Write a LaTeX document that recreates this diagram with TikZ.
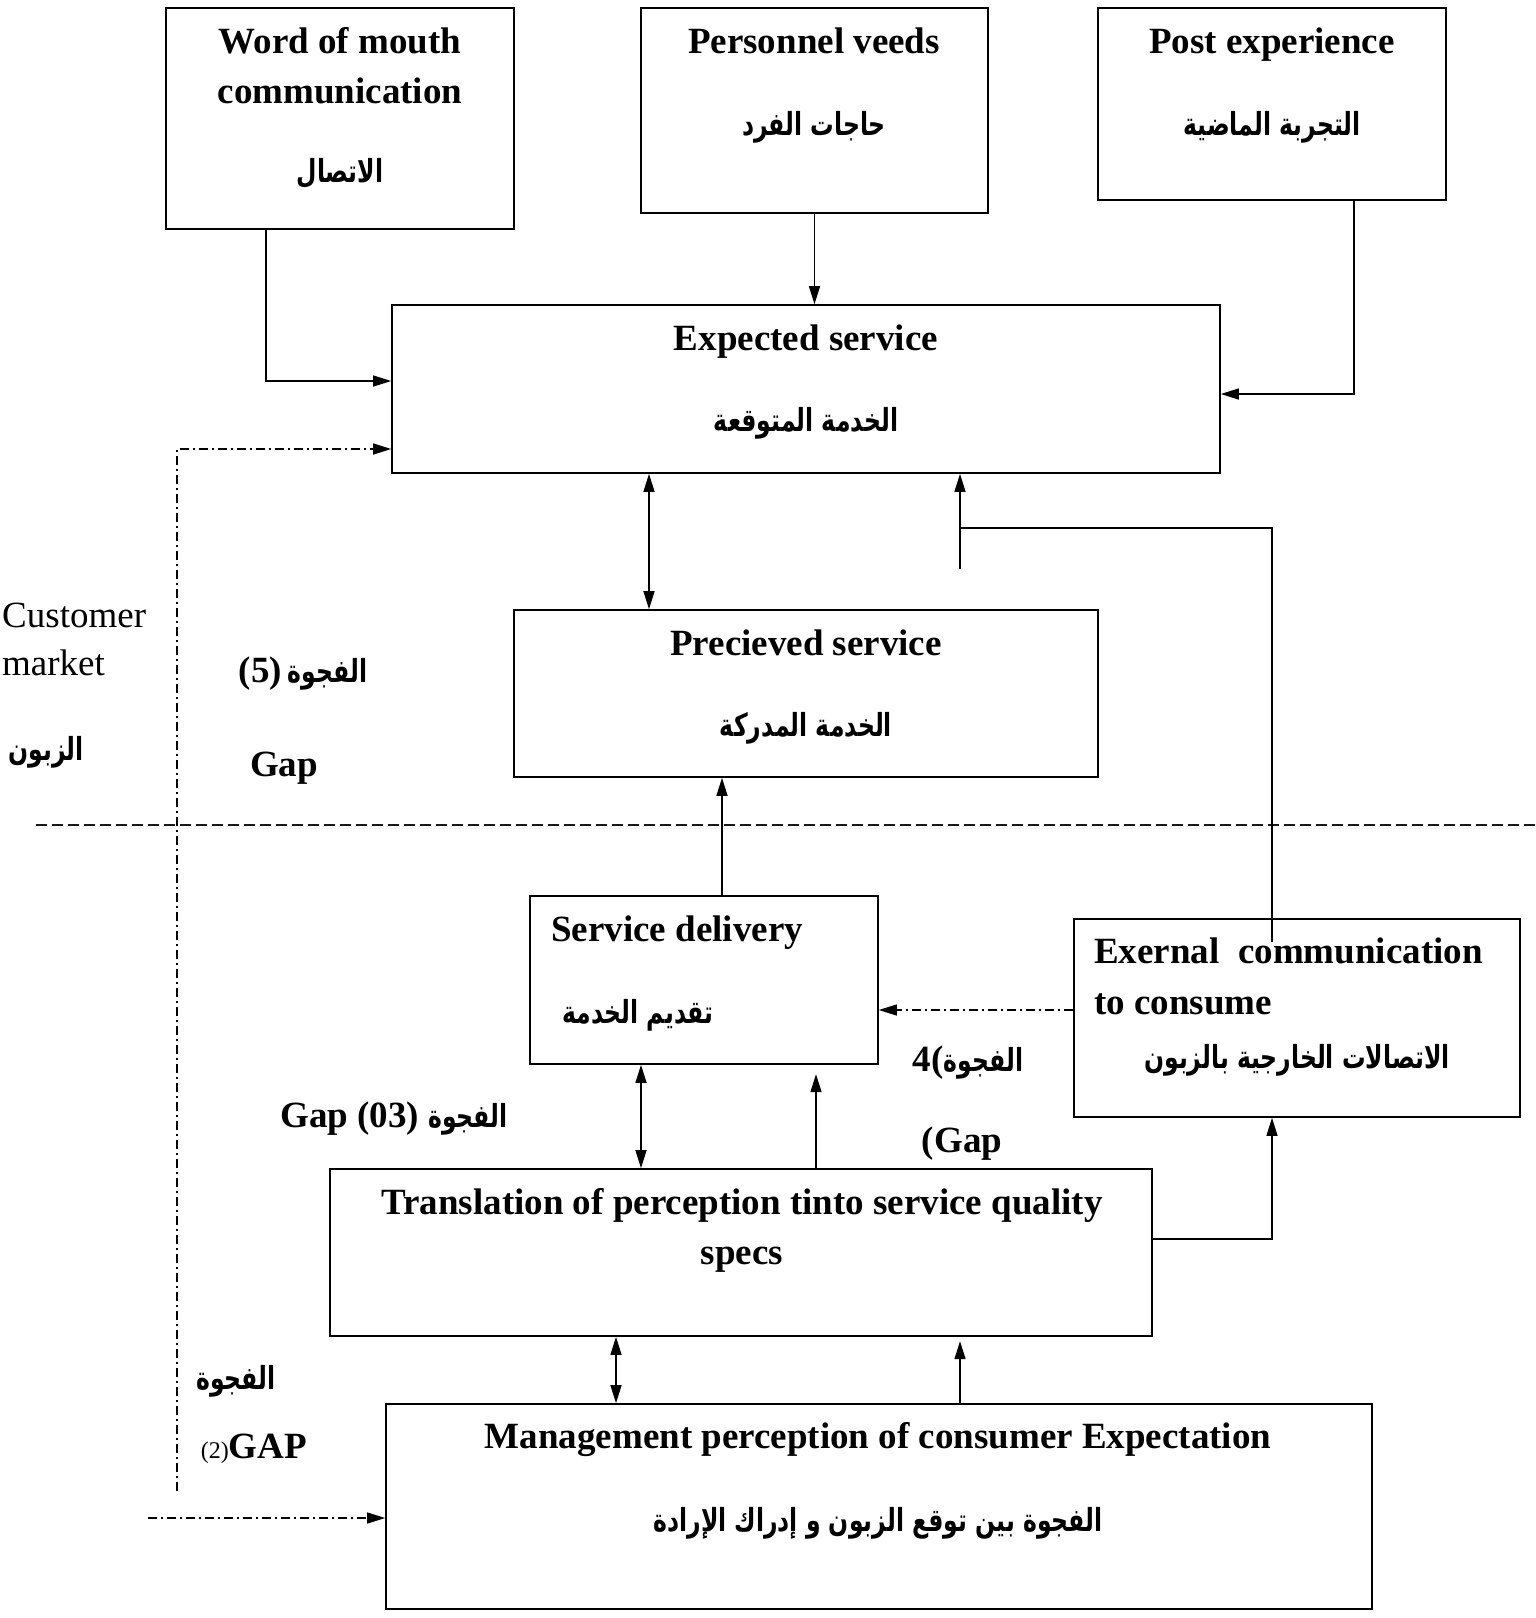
\documentclass[tikz,border=0pt]{standalone}
\usepackage{graphicx}
\usepackage{fontspec}
\setmainfont{Liberation Serif}
\newfontfamily\arabicfont[Script=Arabic]{DejaVu Sans}
\TeXXeTstate=1
\usetikzlibrary{arrows.meta}
% Arabic run, set right to left in a taller, narrower cut
\newcommand\artext[1]{{\arabicfont\bfseries\fontsize{23.5}{28}\selectfont\scalebox{1}[1.35]{\beginR #1\endR}}}

\begin{document}
\begin{tikzpicture}[x=1pt,y=-1pt,
  box/.style={draw, line width=1.7pt, inner sep=0pt},
  en/.style={font=\fontsize{37}{44}\selectfont\bfseries, inner sep=0pt, anchor=base},
  plain/.style={font=\fontsize{37}{44}\selectfont, inner sep=0pt, anchor=base west},
  ara/.style={inner sep=0pt, anchor=base},
  arr/.style={line width=1.4pt, -{Triangle[length=18pt,width=11pt]}},
  darr/.style={line width=1.4pt, {Triangle[length=18pt,width=11pt]}-{Triangle[length=18pt,width=11pt]}},
  dd/.style={line width=1.4pt, dash pattern=on 9pt off 4pt on 2pt off 4pt},
  split/.style={line width=2.8pt, black!90, dash pattern=on 11pt off 5pt},
]
\useasboundingbox (0,0) rectangle (1535,1618);

% ---- boxes ----
\node[box, minimum width=348pt, minimum height=221pt] (wom)   at (340,118.5) {};
\node[box, minimum width=347pt, minimum height=205pt] (pers)  at (814.5,110.5) {};
\node[box, minimum width=348pt, minimum height=192pt] (post)  at (1272,104) {};
\node[box, minimum width=828pt, minimum height=168pt] (exp)   at (806,389) {};
\node[box, minimum width=584pt, minimum height=167pt] (perc)  at (806,693.5) {};
\node[box, minimum width=348pt, minimum height=168pt] (deliv) at (704,980) {};
\node[box, minimum width=446pt, minimum height=198pt] (ext)   at (1297,1018) {};
\node[box, minimum width=822pt, minimum height=167pt] (trans) at (741,1252.5) {};
\node[box, minimum width=986pt, minimum height=205pt] (mgmt)  at (879,1506.5) {};

% ---- box texts ----
\node[en] (womA) at (340,53) {Word of mouth};
\node[en] (womB) at (340,103) {communication};
\node[ara] (womC) at (340,182) {\artext{الاتصال}};

\node[en] (persA) at (814,53) {Personnel veeds};
\node[ara] (persB) at (814,135) {\artext{حاجات الفرد}};

\node[en] (postA) at (1272,53) {Post experience};
\node[ara] (postB) at (1272,135) {\artext{التجربة الماضية}};

\node[en] (expA) at (806,350) {Expected service};
\node[ara] (expB) at (806,431) {\artext{الخدمة المتوقعة}};

\node[en] (percA) at (806,655) {Precieved service};
\node[ara] (percB) at (806,736) {\artext{الخدمة المدركة}};

\node[en, anchor=base west] (delA) at (551,941) {Service delivery};
\node[ara] (delB) at (638,1023) {\artext{تقديم الخدمة}};

\node[en, anchor=base west] (extA) at (1094,963) {Exernal\enspace communication};
\node[en, anchor=base west] (extB) at (1094,1014) {to consume};
\node[ara] (extC) at (1297,1068) {\artext{الاتصالات الخارجية بالزبون}};

\node[en] (trA) at (742,1214) {Translation of perception tinto service quality};
\node[en] (trB) at (742,1264) {specs};

\node[en] (mgA) at (878,1448) {Management perception of consumer Expectation};
\node[ara] (mgB) at (878,1531) {\artext{الفجوة بين توقع الزبون و إدراك الإرادة}};

% ---- side labels ----
\node[plain] (cust) at (2,627) {Customer};
\node[plain] (mkt) at (2,675) {market};
\node[ara] (zab) at (46,760) {\artext{الزبون}};

\node[en] (gap5) at (303,682) {(5)\,\artext{الفجوة}};
\node[en] (gap5b) at (284,776) {Gap};
\node[en] (gap3) at (394,1127) {Gap (03) \artext{الفجوة}};
\node[en] (gap4) at (968,1071) {4(\artext{الفجوة}};
\node[en] (gap4b) at (962,1152) {(Gap};
\node[ara] (gap2) at (236,1389) {\artext{الفجوة}};
\node[en] (gap2b) at (254,1458) {{\mdseries\fontsize{24}{28}\selectfont(2)}GAP};

% ---- dividing line ----
\coordinate (dl) at (36,825);
\coordinate (dr) at (1535,825);
\draw[split] (dl) -- (dr);

% ---- connectors ----
\draw[arr] ([xshift=-74pt]wom.south) |- ([yshift=8pt]exp.west);
\draw[arr] (pers.south) -- (pers.south |- exp.north);
\draw[arr] ([xshift=82pt]post.south) |- ([yshift=-5pt]exp.east);

\coordinate (g5) at (177,1491);
\draw[dd, arr] (g5) |- ([yshift=-60pt]exp.west);
\coordinate (g2) at (148,1518);
\draw[dd, arr] (g2) -- (g2 -| mgmt.west);

\draw[darr] ([xshift=-157pt]perc.north) -- ([xshift=-157pt]perc.north |- exp.south);

\coordinate (k) at (960,528);
\draw[arr] ([xshift=-25pt,yshift=-24pt]ext.north) |- (k) -- (k |- exp.south);
\draw[line width=1.4pt] (k) -- ++(0,41);

\draw[arr] ([xshift=18pt]deliv.north) -- ([xshift=18pt]deliv.north |- perc.south);
\draw[dd, arr] ([yshift=8pt]ext.west) -- ([yshift=8pt]ext.west -| deliv.east);

\draw[darr] ([xshift=-63pt]deliv.south) -- ([xshift=-63pt]deliv.south |- trans.north);
\draw[arr] ([xshift=75pt]trans.north) -- ++(0,-94);
\draw[arr] ([yshift=13.5pt]trans.east) -| ([xshift=-25pt]ext.south);

\draw[darr] ([xshift=-263pt]mgmt.north) -- ([xshift=-263pt]mgmt.north |- trans.south);
\draw[arr] ([xshift=81pt]mgmt.north) -- ++(0,-62);
\end{tikzpicture}
\end{document}
